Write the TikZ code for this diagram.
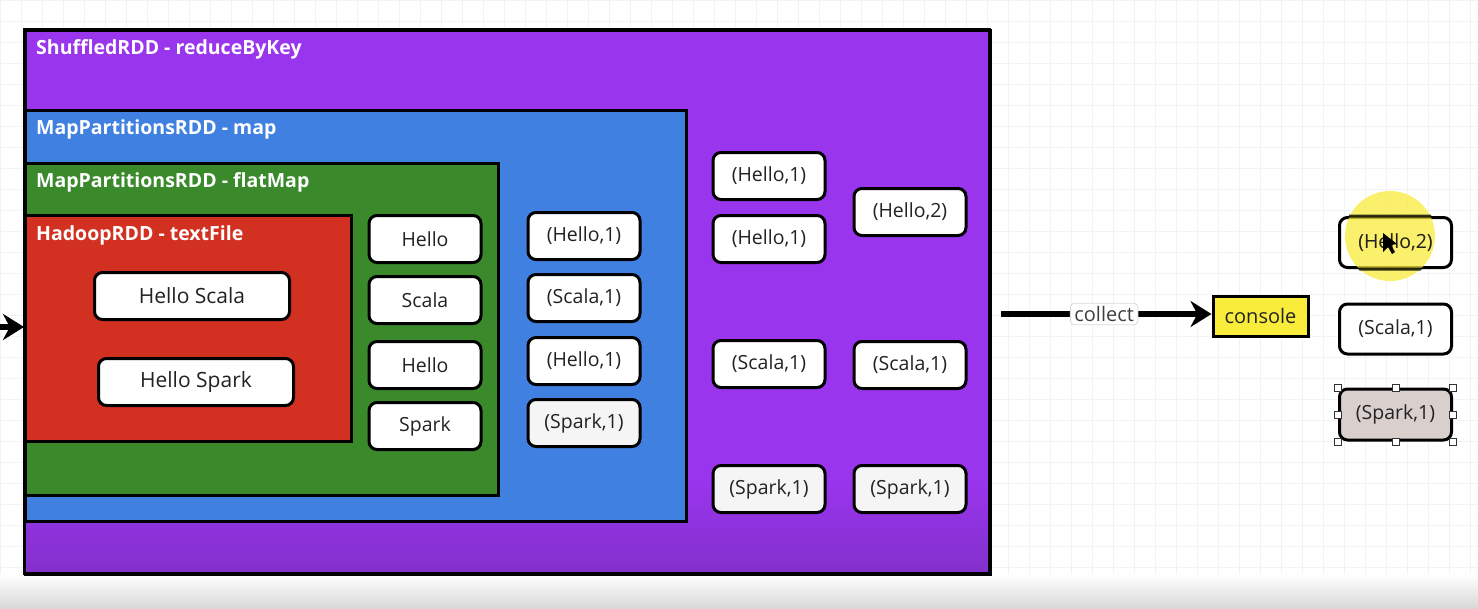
\documentclass[tikz,border=0pt]{standalone}
\usepackage{fontspec}
\setmainfont{Open Sans}
\usetikzlibrary{arrows.meta}
\definecolor{purp}{HTML}{9A35EE}
\definecolor{purpdark}{HTML}{8330CC}
\definecolor{blu}{HTML}{3F80E0}
\definecolor{grn}{HTML}{3A8A2C}
\definecolor{redd}{HTML}{D23020}
\definecolor{yel}{HTML}{FAEC3A}
\definecolor{gridc}{HTML}{F3F3F3}
\definecolor{txt}{HTML}{222222}
\definecolor{selg}{HTML}{D9D0CE}
\tikzset{
  container/.style={draw=black, line width=3pt, anchor=north west, inner sep=0pt},
  hdr/.style={anchor=west, text=white, font=\fontsize{19.5}{22}\selectfont\bfseries, inner sep=0pt},
  item/.style={draw=black, line width=3pt, rounded corners=8pt, fill=white, text=txt,
    minimum width=112pt, minimum height=47pt, font=\fontsize{19.5}{22}\selectfont, inner sep=0pt},
  itemg/.style={item, fill=gray!8},
  wide/.style={item, minimum width=195pt, font=\fontsize{21}{24}\selectfont},
  arr/.style={line width=5.5pt, -{Stealth[length=21pt,width=26pt]}},
  handle/.style={draw=black!80, fill=white, line width=0.8pt, minimum size=7pt, inner sep=0pt},
}
\begin{document}
\begin{tikzpicture}[x=1pt,y=-1pt]
\useasboundingbox (0,0) rectangle (1478,608);
% background
\fill[white] (0,0) rectangle (1478,608);
\draw[gridc, line width=0.8pt] (0,0) grid[step=21pt] (1478,580);
\shade[top color=white, bottom color=black!15] (0,574) rectangle (1478,608);

% containers
\node[container, fill=purp, minimum width=965pt, minimum height=544pt] (shuffled) at (24,29) {};
\shade[bottom color=purpdark, top color=purp] (25.5,480) rectangle (987.5,571.5);
\draw[line width=3pt] (24,29) rectangle (989,573);
\node[container, fill=blu, minimum width=661pt, minimum height=411pt] (mapr) at (24,109) {};
\node[container, fill=grn, minimum width=473pt, minimum height=332pt] (flatm) at (24,162) {};
\node[container, fill=redd, minimum width=326pt, minimum height=226pt] (hadoop) at (24,214) {};

\node[hdr] (hshuf) at (36,49) {ShuffledRDD - reduceByKey};
\node[hdr] (hmap) at (36,129) {MapPartitionsRDD - map};
\node[hdr] (hflat) at (36,182) {MapPartitionsRDD - flatMap};
\node[hdr] (hhad) at (36,235) {HadoopRDD - textFile};

% HadoopRDD items
\node[wide] (hs) at (192,296) {Hello Scala};
\node[wide] (hsp) at (196,382) {Hello Spark};

% flatMap items
\node[item] (f1) at (425,239) {Hello};
\node[item] (f2) at (425,300) {Scala};
\node[item] (f3) at (425,365) {Hello};
\node[item] (f4) at (425,426) {Spark};

% map items
\node[item] (m1) at (584,236) {(Hello,1)};
\node[item] (m2) at (584,298) {(Scala,1)};
\node[item] (m3) at (584,361) {(Hello,1)};
\node[itemg] (m4) at (584,423) {(Spark,1)};

% shuffled column 1
\node[item] (s1) at (769,176) {(Hello,1)};
\node[item] (s2) at (769,239) {(Hello,1)};
\node[item] (s3) at (769,364) {(Scala,1)};
\node[itemg] (s4) at (769,489) {(Spark,1)};

% shuffled column 2
\node[item] (r1) at (910,212) {(Hello,2)};
\node[item] (r2) at (910,365) {(Scala,1)};
\node[itemg] (r3) at (910,489) {(Spark,1)};

% input arrow
\coordinate (inp) at (-6,327);
\draw[arr] (inp) -- (hadoop.west |- inp);

% collect
\node[draw=black, line width=3pt, fill=yel, minimum width=95pt, minimum height=40pt,
      font=\fontsize{20}{22}\selectfont, text=txt, inner sep=0pt] (console) at (1260.5,316) {console};
\coordinate (cst) at (1001,314);
\draw[arr] (cst) -- (console.west |- cst)
  node[pos=0.49, fill=white, draw=black!15, rounded corners=4pt, line width=0.8pt,
       font=\fontsize{20}{22}\selectfont, text=black!75, inner xsep=4pt, inner ysep=3pt] (coll) {collect};

% results
\node[item, minimum height=50pt] (o1) at (1395.5,242.5) {(Hello,2)};
\fill[yel, opacity=0.75] (1390,236) circle (45pt);
\begin{scope}
  \clip (1390,236) circle (46pt);
  \draw[line width=3pt, rounded corners=8pt, draw opacity=0.8] (o1.north west) rectangle (o1.south east);
\end{scope}
\node[font=\fontsize{19.5}{22}\selectfont, text=txt] at (o1.center) {(Hello,2)};
\fill[black] (1383,233) -- (1383,252) -- (1388,247) -- (1392,254) -- (1395,252) -- (1391,245) -- (1397,244) -- cycle;
\node[item, minimum height=50pt] (o2) at (1395.5,329) {(Scala,1)};
\node[item, fill=selg, minimum height=51pt] (o3) at (1395.5,414.5) {(Spark,1)};
\foreach \a in {north west,north,north east,east,south east,south,south west,west}
  \node[handle] at (o3.\a) {};
\end{tikzpicture}
\end{document}
